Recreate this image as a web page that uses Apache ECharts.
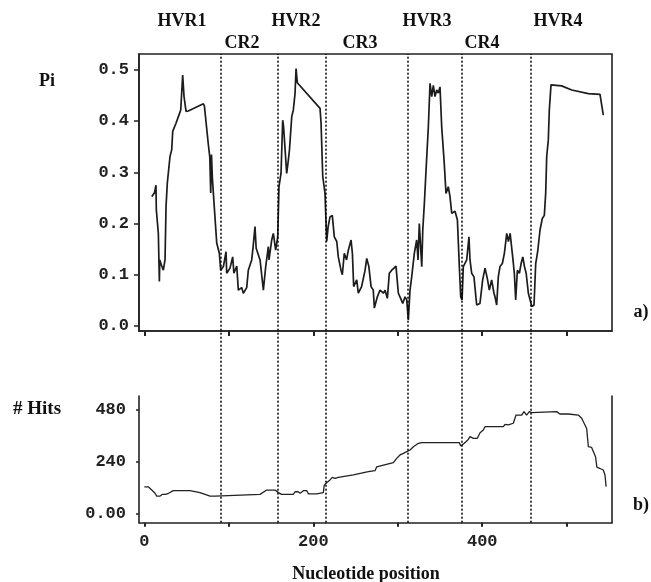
<!DOCTYPE html>
<html>
<head>
<meta charset="utf-8">
<script src="https://cdn.jsdelivr.net/npm/echarts@6/dist/echarts.min.js"></script>
<style>
html,body{margin:0;padding:0;background:#fff;}
#chart{width:651px;height:582px;}
</style>
</head>
<body>
<div id="chart"></div>
<script>
// ---- data ----
const regionNames = ['HVR1','CR2','HVR2','CR3','HVR3','CR4','HVR4'];
const boundaries = [90, 158, 215, 312, 376, 457];
const xTicks = [0, 100, 200, 300, 400, 500];
const xTickLabels = [0, 200, 400];
const piTicks = [0, 0.1, 0.2, 0.3, 0.4, 0.5];
const hitTicks = [0, 240, 480];

const piPos = [8.8,12,13.8,14.2,16.6,17.8,18.3,20,22.5,24.5,25.7,27.2,30.4,32.4,33.6,37.5,40.3,43.1,45.4,47,49.4,52,69.9,71.1,75.8,77.5,78.6,79.5,80.5,82.5,85.7,88.8,90.4,93.6,96.7,97.5,101.4,104.6,106,109.4,111.3,115.2,117.2,121.2,123.1,127.1,128.8,131,132.4,137,140.9,143.7,146.8,147.6,150.8,152.7,155.5,157.9,159.4,161.8,163.8,164.8,168.5,170.5,171.8,174.5,176.4,178.4,179.6,181.1,208,209.2,211.2,213.9,214.7,215.9,217.6,219.8,222.5,224.9,227.8,229.6,232.8,234.4,236.7,239.4,241.5,244.7,246.3,247.8,251.4,253.3,257.2,261.3,263.3,265.8,268.4,271,272.3,275.8,279,283,285,287.7,290,292.8,295.5,297.9,300.7,303.4,305.9,308.6,310.6,312.5,314.5,316.5,319.6,322.4,324,325.5,328.4,329.6,331.5,333.5,336.2,338.2,340.2,342.1,344.1,346.1,348,350,352,354.8,357.1,359.8,361.8,363.9,367.8,370.6,372.9,374.5,376.1,377.6,381.6,384.3,385.5,387.5,390.2,393.4,397.3,400.5,403.3,406,408.4,411.1,413.9,415.1,417.1,419,421,423.8,426.2,429,431,433,435.6,438,439.6,441.6,444,446,448,450,452,454.6,456.6,458.6,461.3,463.3,465.6,468.4,471.1,473.5,475.1,476.3,478.2,479.4,481.4,494,505.9,525.6,539.4,541.4,543.3];
const piVal = [0.253,0.26,0.275,0.227,0.181,0.087,0.129,0.12,0.109,0.129,0.233,0.279,0.331,0.344,0.38,0.396,0.409,0.422,0.49,0.448,0.419,0.42,0.434,0.43,0.354,0.33,0.26,0.335,0.29,0.24,0.162,0.142,0.109,0.116,0.145,0.103,0.113,0.135,0.103,0.117,0.07,0.075,0.064,0.075,0.109,0.129,0.155,0.194,0.152,0.129,0.07,0.116,0.155,0.129,0.168,0.181,0.148,0.174,0.272,0.298,0.402,0.39,0.298,0.324,0.344,0.409,0.422,0.454,0.503,0.475,0.425,0.396,0.292,0.259,0.22,0.165,0.194,0.213,0.216,0.174,0.165,0.135,0.109,0.1,0.142,0.129,0.148,0.168,0.142,0.077,0.09,0.064,0.077,0.109,0.132,0.116,0.077,0.07,0.035,0.057,0.07,0.064,0.07,0.054,0.103,0.109,0.113,0.117,0.064,0.054,0.044,0.057,0.051,0.012,0.07,0.096,0.142,0.168,0.129,0.2,0.116,0.187,0.24,0.305,0.389,0.474,0.448,0.47,0.448,0.461,0.455,0.467,0.389,0.324,0.259,0.272,0.253,0.22,0.224,0.207,0.116,0.057,0.051,0.116,0.129,0.174,0.129,0.103,0.096,0.041,0.044,0.09,0.113,0.093,0.07,0.09,0.064,0.057,0.041,0.096,0.116,0.122,0.142,0.181,0.165,0.181,0.142,0.103,0.051,0.109,0.103,0.122,0.135,0.116,0.103,0.064,0.051,0.038,0.041,0.122,0.145,0.1875,0.21,0.216,0.259,0.331,0.363,0.422,0.471,0.469,0.461,0.454,0.4525,0.449,0.412];

const hitPos = [0,4.7,8.8,12.7,14.7,18.7,21.5,24.7,28.7,34.3,54,56,65.9,68,71.9,74,77.9,84,85,136.9,139,144.9,154.7,158.7,162.6,176.4,178.4,182,184.4,188.3,192.3,194.3,200,202.1,204,211.9,213,215.8,219.8,222.5,225.7,229.6,247.4,249.4,265.2,273.1,275.1,283,294.8,298.7,302.7,306.6,310.6,314.5,318.5,324.4,328.4,372.8,374.7,378.7,383.5,385.5,389.5,394.2,397.4,401.3,403.3,425,427,430.9,436.8,440,446.7,449.4,452.5,455.7,458.4,460.4,488.1,492,501.9,503.8,513.7,517.7,519.7,523.6,525.6,529.5,531.5,534.1,535.7,538.9,543.3,545.3,546.6];
const hitVal = [123,123,108,93,80,80,88,88,93,105,105,96,96,88,88,80,80,80,88,88,96,108,108,96,88,88,100,100,93,105,105,90,90,96,90,96,131,142,155,167,162,167,178,186,193,198,216,224,235,255,271,278,286,294,309,325,328,328,312,325,343,356,348,348,374,387,402,402,413,410,418,456,456,472,456,472,467,472,472,461,461,456,456,441,425,394,309,306,301,263,214,209,201,178,124];

// ---- chart ----
const chart = echarts.init(document.getElementById('chart'), null, {renderer: 'canvas'});
const monoFont = '"Liberation Mono", "DejaVu Sans Mono", monospace';
const serifFont = '"Liberation Serif", "Times New Roman", serif';
const xMin = -6.3, xMax = 553.6;

const piData = piPos.map((x, i) => [x, piVal[i]]);
const hitData = hitPos.map((x, i) => [x, hitVal[i]]);

const labelStyle = {fontFamily: monoFont, fontSize: 17, fontWeight: 'bold', color: '#222'};
const regionLabelPos = [[182,21],[242,43],[296,21],[360,43],[427,21],[482,43],[558,21]];
const axisLineStyle = {show: true, onZero: false, lineStyle: {color: '#222', width: 1.6}};

const option = {
  backgroundColor: '#fff',
  animation: false,
  grid: [
    {left: 139, right: 39, top: 54, height: 277, show: true, borderColor: '#222', borderWidth: 1.6, backgroundColor: 'transparent'},
    {left: 139, right: 39, top: 396, height: 126.7},
    {left: 139, right: 39, top: 54, height: 468.7}
  ],
  xAxis: [
    {gridIndex: 0, type: 'value', min: xMin, max: xMax, position: 'bottom',
      axisLine: axisLineStyle,
      axisTick: {show: true, customValues: xTicks, length: 5, lineStyle: {color: '#222', width: 2}},
      axisLabel: {show: false}, splitLine: {show: false}},
    {gridIndex: 1, type: 'value', min: xMin, max: xMax, position: 'bottom',
      axisLine: axisLineStyle,
      axisTick: {show: true, customValues: xTicks, length: 4, lineStyle: {color: '#222', width: 2}},
      axisLabel: Object.assign({show: true, customValues: xTickLabels, margin: 11, formatter: v => String(v)}, labelStyle),
      splitLine: {show: false}},
    {gridIndex: 2, type: 'value', min: xMin, max: xMax, show: false}
  ],
  yAxis: [
    {gridIndex: 0, type: 'value', min: -0.00977, max: 0.53125, position: 'left',
      axisLine: axisLineStyle,
      axisTick: {show: true, customValues: piTicks, length: 5, lineStyle: {color: '#222', width: 1.5}},
      axisLabel: Object.assign({show: true, customValues: piTicks, margin: 10, formatter: v => v.toFixed(1)}, labelStyle),
      splitLine: {show: false}},
    {gridIndex: 1, type: 'value', min: -43.6, max: 544.5, position: 'left',
      axisLine: axisLineStyle,
      axisTick: {show: true, customValues: hitTicks, length: 3, lineStyle: {color: '#222', width: 1.5}},
      axisLabel: Object.assign({show: true, customValues: hitTicks, margin: 13, formatter: v => v === 0 ? '0.00' : String(v)}, labelStyle),
      splitLine: {show: false}},
    {gridIndex: 1, type: 'value', position: 'right', min: -43.6, max: 544.5,
      axisLine: axisLineStyle,
      axisTick: {show: false}, axisLabel: {show: false}, splitLine: {show: false}},
    {gridIndex: 2, type: 'value', min: 0, max: 1, show: false}
  ],
  series: [
    {name: 'Pi', type: 'line', xAxisIndex: 0, yAxisIndex: 0, data: piData,
      showSymbol: false, symbol: 'none', lineStyle: {color: '#1c1c1c', width: 1.7}, z: 3},
    {name: 'Hits', type: 'line', xAxisIndex: 1, yAxisIndex: 1, data: hitData,
      showSymbol: false, symbol: 'none', lineStyle: {color: '#222', width: 1.3}, z: 3},
    {name: 'bounds', type: 'line', xAxisIndex: 2, yAxisIndex: 3, data: [],
      markLine: {silent: true, symbol: ['none','none'], label: {show: false},
        lineStyle: {color: '#000', width: 1.5, type: [2, 2]},
        data: boundaries.map(b => ({xAxis: b}))}}
  ],
  graphic: [
    ...regionNames.map((n, i) => ({type: 'text', x: regionLabelPos[i][0], y: regionLabelPos[i][1],
      style: {text: n, font: 'bold 18px ' + serifFont, fill: '#111', align: 'center', verticalAlign: 'middle'}})),
    {type: 'text', x: 47, y: 81, style: {text: 'Pi', font: 'bold 18px ' + serifFont, fill: '#111', align: 'center', verticalAlign: 'middle'}},
    {type: 'text', x: 13, y: 409, style: {text: '# Hits', font: 'bold 19px ' + serifFont, fill: '#111', align: 'left', verticalAlign: 'middle'}},
    {type: 'text', x: 641, y: 312, style: {text: 'a)', font: 'bold 18px ' + serifFont, fill: '#111', align: 'center', verticalAlign: 'middle'}},
    {type: 'text', x: 641, y: 505, style: {text: 'b)', font: 'bold 18px ' + serifFont, fill: '#111', align: 'center', verticalAlign: 'middle'}},
    {type: 'text', x: 366, y: 574, style: {text: 'Nucleotide position', font: 'bold 18px ' + serifFont, fill: '#111', align: 'center', verticalAlign: 'middle'}}
  ]
};
chart.setOption(option);
</script>
</body>
</html>
